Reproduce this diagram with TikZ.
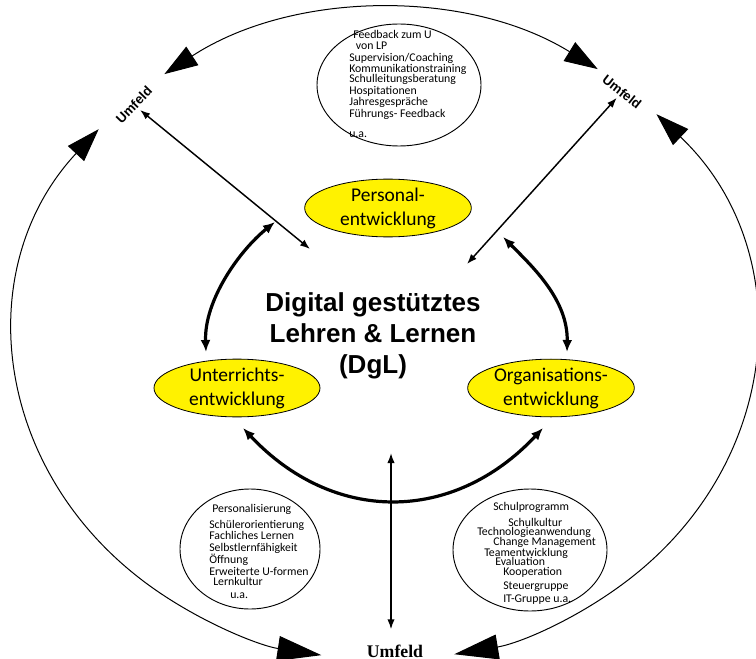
\documentclass[tikz,border=0pt]{standalone}
\usepackage{fontspec}
\setmainfont{Carlito}
\newfontfamily\headfont{Liberation Sans}
\newfontfamily\umfeldfont{Liberation Serif}
\usetikzlibrary{shapes.geometric,arrows.meta,calc}
\lineskiplimit=-\maxdimen

\tikzset{
  bubble/.style={draw, ellipse, line width=0.7pt, inner sep=0pt},
  topic/.style={draw, ellipse, fill=yellow, line width=0.6pt, inner sep=0pt, align=center,
    font=\fontsize{14.6}{18}\selectfont},
  bubbletext/.style={inner sep=0pt, anchor=north west, align=left},
  umfeld/.style={font=\headfont\bfseries\fontsize{10}{12}\selectfont, inner sep=2pt},
  cycle arrow/.style={line width=0.75pt},
  thinarrow/.style={line width=1.1pt, {Latex[length=7.5pt,width=5.5pt]}-{Latex[length=7.5pt,width=5.5pt]}},
  thickarrow/.style={line width=2.4pt, {Latex[length=9pt,width=7.5pt]}-{Latex[length=9pt,width=7.5pt]}}
}

\begin{document}
\begin{tikzpicture}[x=0.75pt, y=-0.75pt]
  \useasboundingbox (0,0) rectangle (756,659);

  % Umfeld labels
  \node[umfeld, rotate=46] (ufTL) at (134,105) {Umfeld};
  \node[umfeld, rotate=-38] (ufTR) at (622,92) {Umfeld};
  \node[font=\umfeldfont\bfseries\fontsize{13.3}{16}\selectfont] (ufB) at (395,651) {Umfeld};

  % outer cycle
  \coordinate (ctr) at (385,335);
  \draw[cycle arrow, {Triangle[length=25pt,width=16.5pt]}-{Triangle[length=25pt,width=16.5pt]}]
    ($(ctr)+(-126.6:370 and 325)$) arc[start angle=-126.6, end angle=-54.9, x radius=370, y radius=325];
  \draw[cycle arrow, {Triangle[length=25pt,width=16.5pt]}-{Triangle[length=33pt,width=18.75pt]}]
    ($(ctr)+(219.3:370 and 325)$) arc[start angle=219.3, end angle=99.9, x radius=370, y radius=325];
  \draw[cycle arrow, {Triangle[length=25pt,width=16.5pt]}-{Triangle[length=33pt,width=18.75pt]}]
    ($(ctr)+(-42.8:370 and 325)$) arc[start angle=-42.8, end angle=79.2, x radius=370, y radius=325];

  % text bubbles
  \node[bubble, minimum width=123pt, minimum height=91.5pt] (bubP) at (399,85) {};
  \node[bubbletext, font=\fontsize{8.85}{8.6}\selectfont] (txtP) at (349,30) {%
    \hspace*{3pt}Feedback zum U\\
    \hspace*{5pt}von LP\\
    Supervision/Coaching\\
    Kommunikationstraining\\[-1pt]
    Schulleitungsberatung\\
    Hospitationen\\
    Jahresgespräche\\
    Führungs- Feedback\\[6.4pt]
    u.a.};

  \node[bubble, minimum width=105pt, minimum height=90pt] (bubU) at (250,549) {};
  \node[bubbletext, font=\fontsize{8.85}{8.8}\selectfont] (txtU) at (209,504) {%
    \hspace*{2.25pt}Personalisierung\\[3pt]
    Schülerorientierung\\
    Fachliches Lernen\\
    Selbstlernfähigkeit\\
    Öffnung\\
    Erweiterte U-formen\\[-1.3pt]
    \hspace*{3pt}Lernkultur\\[1pt]
    \hspace*{15.75pt}u.a.};

  \node[bubble, minimum width=115.5pt, minimum height=91.5pt] (bubO) at (530,550) {};
  \node[bubbletext, font=\fontsize{8.85}{7.5}\selectfont] (txtO) at (477,502) {%
    \hspace*{12pt}Schulprogramm\\[4.5pt]
    \hspace*{23.25pt}Schulkultur\\[-0.75pt]
    Technologieanwendung\\
    \hspace*{12pt}Change Management\\[0.75pt]
    \hspace*{5.25pt}Teamentwicklung\\[-0.75pt]
    \hspace*{13.5pt}Evaluation\\
    \hspace*{19.5pt}Kooperation\\[3pt]
    \hspace*{19.5pt}Steuergruppe\\[2.25pt]
    \hspace*{19.5pt}IT-Gruppe u.a.};

  % the three fields
  \node[topic, minimum width=125pt, minimum height=40pt] (pe) at (388,208) {Personal-\\entwicklung};
  \node[topic, minimum width=124.5pt, minimum height=39pt] (ue) at (237,388) {Unterrichts-\\entwicklung};
  \node[topic, minimum width=125pt, minimum height=39pt] (oe) at (551,388) {Organisations-\\entwicklung};

  % centre
  \node[align=center, font=\headfont\bfseries\fontsize{19.5}{23.25}\selectfont] (dgl) at (373,336)
    {Digital gestütztes\\Lehren \& Lernen\\(DgL)};

  % arrows to the Umfeld
  \coordinate (pTL) at (310,249);
  \coordinate (pTR) at (467,264);
  \coordinate (pB) at (391,453);
  \draw[thinarrow] (ufTL) -- (pTL);
  \draw[thinarrow] (ufTR) -- (pTR);
  \draw[thinarrow, shorten >=8pt] (pB) -- (pB |- ufB.north);

  % arrows between the fields
  \coordinate (lA) at (275,222);
  \coordinate (lB) at (206,352);
  \coordinate (rA) at (503,237);
  \coordinate (rB) at (567,352);
  \coordinate (bA) at (243,428);
  \coordinate (bB) at (543,428);
  \draw[thickarrow] (lA) .. controls (240,250) and (204,300) .. (lB);
  \draw[thickarrow] (rA) .. controls (533,267) and (568,300) .. (rB);
  \draw[thickarrow] (bA) .. controls (333,524) and (453,524) .. (bB);
\end{tikzpicture}
\end{document}
